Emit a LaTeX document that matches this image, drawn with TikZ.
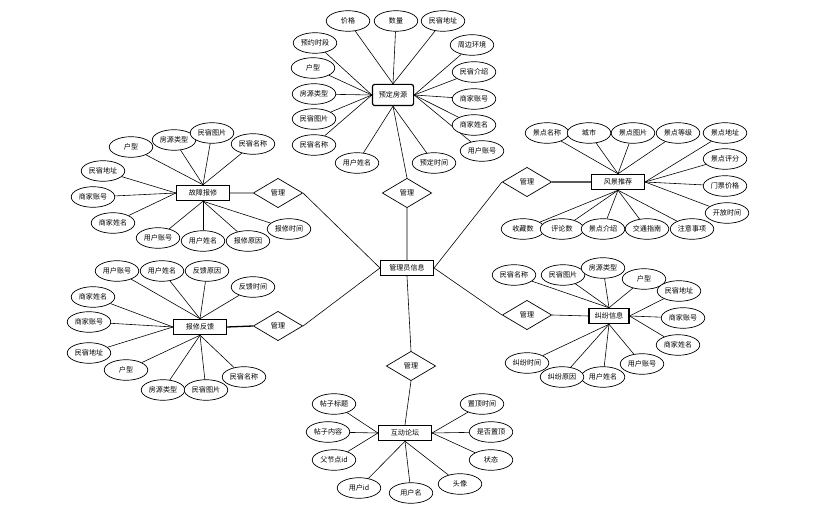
\documentclass[tikz,border=0pt]{standalone}
\usepackage{fontspec}
\newfontfamily\cjk{Noto Sans CJK SC}
\usetikzlibrary{shapes.geometric}
\tikzset{
  attr/.style={ellipse,draw,fill=white,line width=.6pt,minimum width=37pt,minimum height=17.5pt,inner sep=0pt},
  ent/.style={rectangle,draw,fill=white,line width=1pt,minimum width=45pt,minimum height=13pt,inner sep=1pt},
  rel/.style={diamond,draw,fill=white,line width=.6pt,minimum width=42pt,minimum height=25pt,inner sep=0pt},
  link/.style={line width=.5pt}
}

\begin{document}
\begin{tikzpicture}[x=0.85pt,y=-0.85pt,font=\cjk\fontsize{6}{7}\selectfont]
\useasboundingbox (0,0) rectangle (829,516);
% entities and relations
\node[ent] (admin) at (407,268){管理员信息};
\node[ent,rounded corners=2pt,minimum width=35pt,minimum height=18pt] (yd) at (393,95){预定房源};
\node[ent] (gz) at (203,193){故障报修};\node[ent] (fk) at (200,327){报修反馈};
\node[ent] (fj) at (618,182){风景推荐};\node[ent,minimum width=34pt] (jf) at (609,316){纠纷信息};
\node[ent] (hd) at (405,433){互动论坛};
\node[rel] (rT) at (407,193){管理};\node[rel] (rB) at (411,366){管理};
\node[rel] (rUL) at (278,193){管理};\node[rel] (rLL) at (278,326){管理};
\node[rel] (rUR) at (527,182){管理};\node[rel] (rLR) at (527,315){管理};
\draw[link] (yd.south)--(rT.north) (rT.south)--(admin.north) (admin.south)--(rB.north) (rB.south)--(hd.north);
\draw[link] (gz.east)--(rUL.west) (rUL.east)--(admin.west) (rLL.east)--(admin.west);
\draw[link] (rUR.west)--(admin.east) (rLR.west)--(admin.east) (rLR.east)--(jf.west);
\draw[line width=1.1pt] (fk.east)--(rLL.west) (rUR.east)--(fj.west);
% attributes
\foreach \n/\x/\y/\a/\t in {yd1/348/21/north/价格,yd2/396/21/north/数量,yd3/443/21/north/民宿地址,
  yd4/315/43/west/预约时段,yd5/313/68/west/户型,yd6/314/94/west/房源类型,yd7/314/119/west/民宿图片,
  yd8/314/145/west/民宿名称,yd9/357/163/south/用户姓名,yd10/434/163/south/预定时间,yd11/482/151/east/用户账号,
  yd12/474/125/east/商家姓名,yd13/474/99/east/商家账号,yd14/474/72/east/民宿介绍,yd15/472/45/east/周边环境}
  {\node[attr] (\n) at (\x,\y){\t};\draw[link] (yd.\a)--(\n);}
\foreach \n/\x/\y/\a/\t in {gz1/131/147/north/户型,gz2/174/140/north/房源类型,gz3/212/133/north/民宿图片,
  gz4/253/144/north/民宿名称,gz5/103/171/west/民宿地址,gz6/93/197/west/商家账号,gz7/113/223/west/商家姓名,
  gz8/158/238/south/用户账号,gz9/203/241/south/用户姓名,gz10/248/241/south/报修原因,gz11/289/229/south/报修时间}
  {\node[attr] (\n) at (\x,\y){\t};\draw[link] (gz.\a)--(\n);}
\foreach \n/\x/\y/\a/\t in {fk1/117/271/north/用户账号,fk2/162/271/north/用户姓名,fk3/207/271/north/反馈原因,
  fk4/253/287/north/反馈时间,fk5/93/297/west/商家姓名,fk6/89/322/west/商家账号,fk7/89/353/west/民宿地址,
  fk8/126/370/south/户型,fk9/163/390/south/房源类型,fk10/206/390/south/民宿图片,fk11/244/377/south/民宿名称}
  {\node[attr] (\n) at (\x,\y){\t};\draw[link] (fk.\a)--(\n);}
\foreach \n/\x/\y/\a/\t in {fj1/547/133/north/景点名称,fj2/589/133/north/城市,fj3/633/133/north/景点图片,
  fj4/678/133/north/景点等级,fj5/725/133/east/景点地址,fj6/725/159/east/景点评分,fj7/725/186/east/门票价格,
  fj8/727/213/east/开放时间,fj9/523/229/south/收藏数,fj10/562/229/south/评论数,fj11/603/229/south/景点介绍,
  fj12/647/229/south/交通指南,fj13/692/229/south/注意事项}
  {\node[attr] (\n) at (\x,\y){\t};\draw[link] (fj.\a)--(\n);}
\foreach \n/\x/\y/\a/\t in {jf1/514/275/north/民宿名称,jf2/563/275/north/民宿图片,jf3/603/268/north/房源类型,
  jf4/644/279/north/户型,jf5/679/291/east/民宿地址,jf6/683/318/east/商家账号,jf7/678/345/east/商家姓名,
  jf8/642/364/south/用户账号,jf9/603/377/south/用户姓名,jf10/562/377/south/纠纷原因,jf11/527/363/south/纠纷时间}
  {\node[attr] (\n) at (\x,\y){\t};\draw[link] (jf.\a)--(\n);}
\foreach \n/\x/\y/\a/\t in {hd1/334/404/west/帖子标题,hd2/328/432/west/帖子内容,hd3/334/460/west/父节点id,
  hd4/359/488/south/用户id,hd5/411/493/south/用户名,hd6/460/484/south/头像,hd7/491/460/east/状态,
  hd8/491/432/east/是否置顶,hd9/482/404/east/置顶时间}
  {\node[attr] (\n) at (\x,\y){\t};\draw[link] (hd.\a)--(\n);}
\end{tikzpicture}
\end{document}
